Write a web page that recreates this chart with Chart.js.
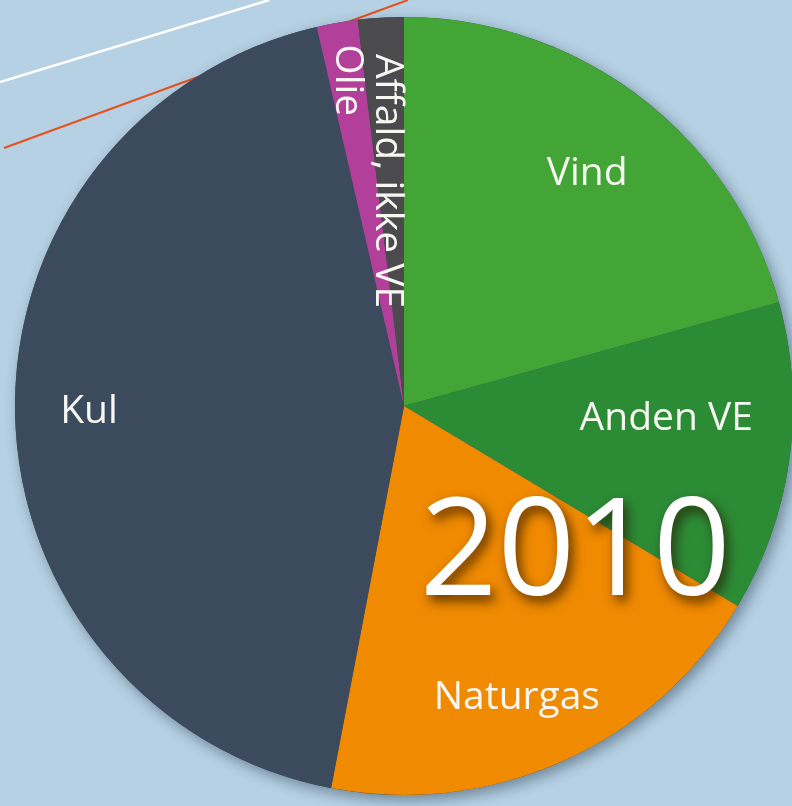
<!DOCTYPE html>
<html>
<head>
  <title>Elproduktion 2010</title>
  <script src="https://cdn.jsdelivr.net/npm/chart.js"></script>
  <style>
    html, body { margin: 0; padding: 0; background: #b6d1e3; overflow: hidden; }
    #wrap { width: 792px; height: 806px; }
  </style>
</head>
<body>
  <div id="wrap"><canvas id="grafik" width="792" height="806"></canvas></div>

  <script>
    // andele i procent (med uret fra kl. 12)
    const kategorier = ['Vind', 'Anden VE', 'Naturgas', 'Kul', 'Olie', 'Affald, ikke VE'];
    const andele = [20.7, 12.9, 19.4, 43.4, 1.7, 1.9];
    const farver = ['#42a535', '#2c8c36', '#f08a00', '#3c4a5d', '#b2409b', '#4b4a4c'];
    const aarstal = '2010';

    // placering af tekst: brøkdel af radius, vinkelforskydning og rotation i grader
    const tekstRadius = [0.76, 0.675, 0.805, 0.81, 0.85, 0.58];
    const tekstVinkel = [1, -5, 3, 0, 0, -1];
    const tekstRotation = [0, 0, 0, 0, 90, 90];

    const pynt = {
      id: 'pynt',
      beforeDatasetsDraw(chart) {
        const ctx = chart.ctx;
        const w = chart.width;
        const arc = chart.getDatasetMeta(0).data[0];
        ctx.save();
        // dekorative streger i baggrunden
        ctx.lineWidth = 2.5;
        ctx.strokeStyle = '#ffffff';
        ctx.beginPath();
        ctx.moveTo(0, 82);
        ctx.lineTo(w * 0.34, 0);
        ctx.stroke();
        ctx.lineWidth = 2;
        ctx.strokeStyle = '#e8501e';
        ctx.beginPath();
        ctx.moveTo(4, 148);
        ctx.lineTo(w * 0.515, 0);
        ctx.stroke();
        // skygge under lagkagen
        ctx.shadowColor = 'rgba(20, 40, 60, 0.45)';
        ctx.shadowBlur = 14;
        ctx.shadowOffsetX = 4;
        ctx.shadowOffsetY = 5;
        ctx.fillStyle = '#3c4a5d';
        ctx.beginPath();
        ctx.arc(arc.x, arc.y, arc.outerRadius, 0, Math.PI * 2);
        ctx.fill();
        ctx.restore();
      },
      afterDatasetsDraw(chart) {
        const ctx = chart.ctx;
        const meta = chart.getDatasetMeta(0);
        ctx.save();
        ctx.fillStyle = '#f7f7f2';
        ctx.textAlign = 'center';
        ctx.textBaseline = 'middle';
        ctx.font = '39px "Open Sans", sans-serif';
        meta.data.forEach((a, i) => {
          const mid = (a.startAngle + a.endAngle) / 2 + tekstVinkel[i] * Math.PI / 180;
          const r = a.outerRadius * tekstRadius[i];
          const x = a.x + Math.cos(mid) * r;
          const y = a.y + Math.sin(mid) * r;
          ctx.save();
          ctx.translate(x, y);
          ctx.rotate(tekstRotation[i] * Math.PI / 180);
          ctx.fillText(kategorier[i], 0, 0);
          ctx.restore();
        });
        // årstal med skygge
        const c = meta.data[0];
        ctx.font = '136px "Open Sans", sans-serif';
        ctx.shadowColor = 'rgba(40, 20, 0, 0.75)';
        ctx.shadowBlur = 12;
        ctx.shadowOffsetX = 4;
        ctx.shadowOffsetY = 6;
        ctx.fillStyle = '#ffffff';
        ctx.fillText(aarstal, c.x + c.outerRadius * 0.44, c.y + c.outerRadius * 0.385);
        ctx.restore();
      }
    };

    new Chart(document.getElementById('grafik'), {
      type: 'pie',
      data: {
        labels: kategorier,
        datasets: [{
          data: andele,
          backgroundColor: farver,
          borderWidth: 0,
          hoverOffset: 0,
          clip: false
        }]
      },
      options: {
        responsive: false,
        animation: false,
        radius: 389,
        layout: { padding: { left: 16, right: 0, top: 6, bottom: 0 } },
        plugins: {
          legend: { display: false },
          tooltip: { enabled: false }
        }
      },
      plugins: [pynt]
    });
  </script>
</body>
</html>
